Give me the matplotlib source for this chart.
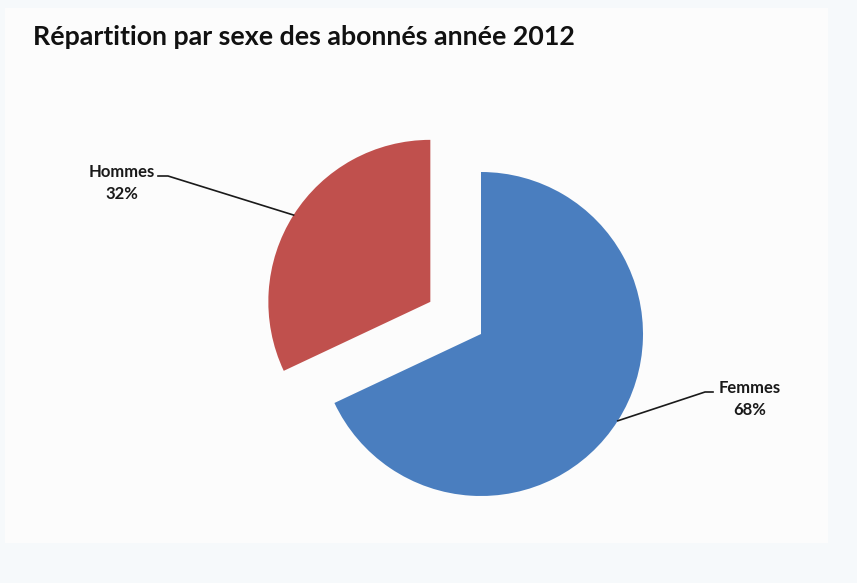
import numpy as np
import matplotlib
matplotlib.use('Agg')
import matplotlib.pyplot as plt
from matplotlib.patches import Rectangle

# abonnés 2012, répartition par sexe
labels = ['Femmes', 'Hommes']
parts = [68, 32]
colors = ['#4a7ebf', '#c0504d']

W, H = 857, 583
fig = plt.figure(figsize=(W / 100, H / 100), dpi=100, facecolor='#f6f9fb')
ax = fig.add_axes([0, 0, 1, 1])
ax.set_aspect('equal')

# zone du graphique
ax.add_patch(Rectangle((5, H - 543), 823, 535, facecolor='#fcfcfc', edgecolor='none', zorder=0))

center = (481, H - 334)
radius = 162
wedges, _ = ax.pie(parts, colors=colors, startangle=90, counterclock=False,
                   center=center, radius=radius, explode=[0, 60],
                   wedgeprops=dict(linewidth=0), frame=True)
ax.set_xlim(0, W)
ax.set_ylim(0, H)
ax.axis('off')

fig.text(33 / W, 1 - 37 / H, 'Répartition par sexe des abonnés année 2012',
         fontsize=19.3, fontweight='bold', family='Lato', ha='left', va='center',
         color='#111111')

# étiquettes avec lignes de rappel
label_pos = {'Femmes': (750, 399, 713, 705), 'Hommes': (122, 183, 158, 168)}
for w, lab, p in zip(wedges, labels, parts):
    tx, ty, x0, x1 = label_pos[lab]
    ang = np.deg2rad((w.theta1 + w.theta2) / 2)
    cx, cy = w.center
    ex = cx + w.r * np.cos(ang)
    ey = cy + w.r * np.sin(ang)
    ly = H - (ty - 7)
    ax.plot([x0, x1, ex], [ly, ly, ey], color='#1a1a1a', lw=1.2, zorder=3)
    ax.text(tx, H - ty, f'{lab}\n{p}%', ha='center', va='center', fontsize=12,
            fontweight='bold', family='Lato', linespacing=1.4, color='#1a1a1a')

fig.savefig('out.png', dpi=100, facecolor=fig.get_facecolor())
